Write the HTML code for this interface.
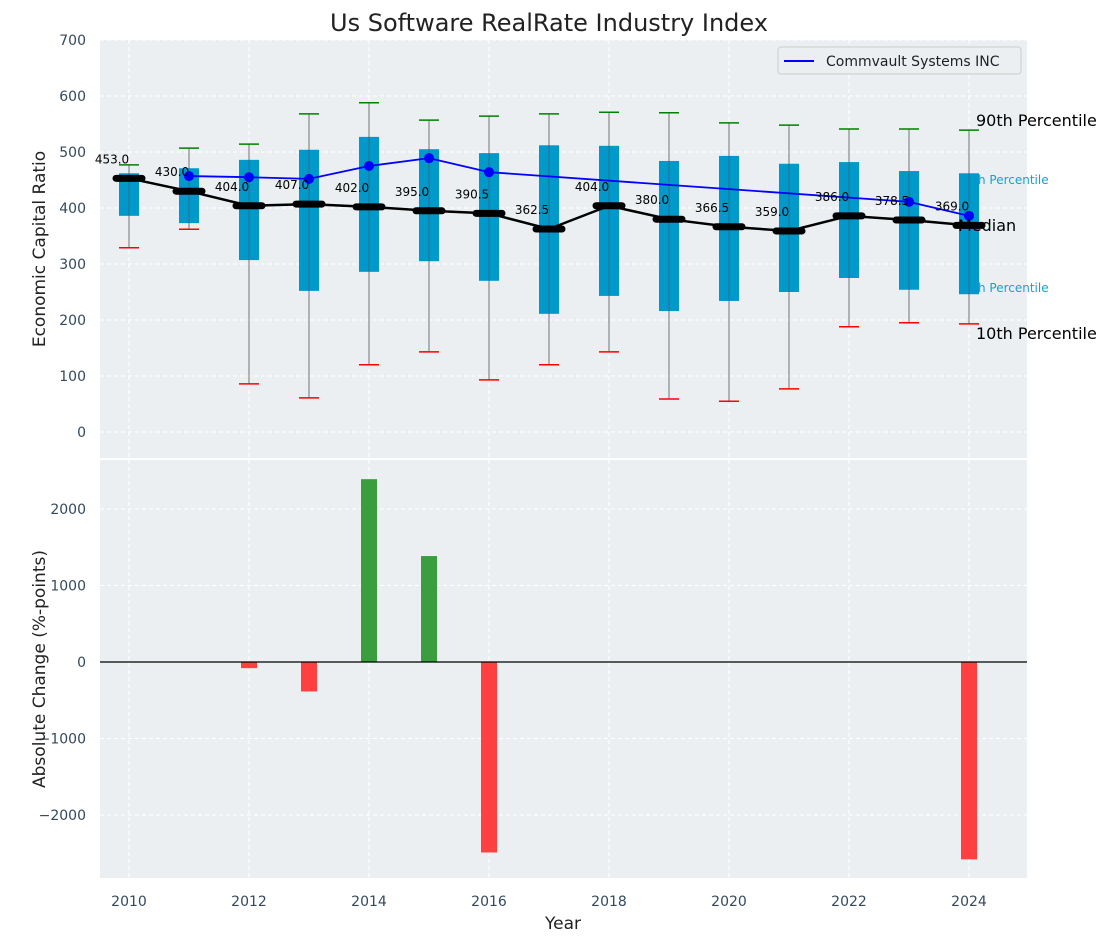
<!DOCTYPE html>
<html><head><meta charset="utf-8"><style>
body{margin:0;background:#fff;}
svg{display:block;font-family:"DejaVu Sans","Liberation Sans",sans-serif;}
</style></head><body>
<svg id="chart" width="1111" height="942" viewBox="0 0 1111 942" xmlns="http://www.w3.org/2000/svg">
<text x="549" y="31" font-size="24" text-anchor="middle" fill="#222">Us Software RealRate Industry Index</text>
<rect x="100" y="40" width="927" height="418" fill="#ebeff1"/>
<rect x="100" y="460" width="927" height="418" fill="#ebeff1"/>
<g id="grid"></g>
<text x="976" y="126" font-size="16" fill="#000">90th Percentile</text>
<text x="958" y="184" font-size="12" fill="#1aa0d0">75th Percentile</text>
<text x="958" y="292" font-size="12" fill="#1aa0d0">25th Percentile</text>
<text x="976" y="339" font-size="16" fill="#000">10th Percentile</text>
<g id="marks"></g><g id="axes"></g>
<text x="958" y="231" font-size="16" fill="#000">Median</text>
<text transform="translate(45,249) rotate(-90)" font-size="17" text-anchor="middle" fill="#222">Economic Capital Ratio</text>
<text transform="translate(45,669) rotate(-90)" font-size="17" text-anchor="middle" fill="#222">Absolute Change (%-points)</text>
<text x="563" y="929" font-size="17" text-anchor="middle" fill="#222">Year</text>
<g>
<rect x="778" y="47" width="243" height="27" rx="3" fill="#ebeff1" stroke="#ccc"/>
<line x1="784" y1="61" x2="814" y2="61" stroke="#0000ff" stroke-width="2"/>
<text x="826" y="66" font-size="14" fill="#222">Commvault Systems INC</text>
</g>
</svg>
<script>
const years=[2010,2011,2012,2013,2014,2015,2016,2017,2018,2019,2020,2021,2022,2023,2024];
const p90=[477,507,514,568,588,557,564,568,571,570,552,548,541,541,539];
const p75=[462,471,486,504,527,505,498,512,511,484,493,479,482,466,462];
const median=[453,430,404,407,402,395,390.5,362.5,404,380,366.5,359,386,378.5,369];
const p25=[386,373,307,252,286,305,270,211,243,216,234,250,275,254,246];
const p10=[329,362,86,61,120,143,93,120,143,59,55,77,188,195,193];
const compYears=[2011,2012,2013,2014,2015,2016,2023,2024];
const compVals=[457,455,452,475,489,464,411,386];
const changeYears=[2012,2013,2014,2015,2016,2024];
const changeVals=[-80,-385,2390,1385,-2490,-2580];
const yTicksTop=[0,100,200,300,400,500,600,700];
const yTicksBot=[-2000,-1000,0,1000,2000];
const xTicks=[2010,2012,2014,2016,2018,2020,2022,2024];

const NS="http://www.w3.org/2000/svg";
const X=y=>129+(y-2010)*60;
const YT=v=>432-v*0.56;
const YB=v=>662-v*0.0765;
function mk(p,t,a){const e=document.createElementNS(NS,t);for(const k in a)e.setAttribute(k,a[k]);p.appendChild(e);return e;}
const G=document.getElementById('grid'),M=document.getElementById('marks'),A=document.getElementById('axes');
const tc="#34495e";
xTicks.forEach(t=>{
 [[40,458],[460,878]].forEach(r=>{const l=mk(G,'line',{x1:X(t),x2:X(t),y1:r[0],y2:r[1],stroke:'#fff','stroke-dasharray':'4,3'});
 });
 const tx=mk(A,'text',{x:X(t),y:906,'font-size':14,'text-anchor':'middle',fill:tc});tx.textContent=t;
 
});
yTicksTop.forEach(t=>{
 const l=mk(G,'line',{x1:100,x2:1027,y1:YT(t),y2:YT(t),stroke:'#fff','stroke-dasharray':'4,3'});
 
 const tx=mk(A,'text',{x:86,y:YT(t)+5,'font-size':14,'text-anchor':'end',fill:tc});tx.textContent=t;
 
});
yTicksBot.forEach(t=>{
 const l=mk(G,'line',{x1:100,x2:1027,y1:YB(t),y2:YB(t),stroke:'#fff','stroke-dasharray':'4,3'});
 
 const tx=mk(A,'text',{x:86,y:YB(t)+5,'font-size':14,'text-anchor':'end',fill:tc});tx.textContent=(t<0?'\u2212'+(-t):t);
 
});
years.forEach((y,i)=>{
 const x=X(y);
 const w=mk(M,'line',{x1:x,x2:x,y1:YT(p10[i]),y2:YT(p90[i]),stroke:'#888','stroke-width':1.2});
 
 const b=mk(M,'rect',{x:x-10,y:YT(p75[i]),width:20,height:YT(p25[i])-YT(p75[i]),fill:'#0099cc'});
 
 const w2=mk(M,'line',{x1:x,x2:x,y1:YT(p75[i]),y2:YT(p25[i]),stroke:'#555','stroke-width':1,opacity:0.6});
 
 const c1=mk(M,'line',{x1:x-10,x2:x+10,y1:YT(p90[i]),y2:YT(p90[i]),stroke:'green','stroke-width':1.5});
 
 const c2=mk(M,'line',{x1:x-10,x2:x+10,y1:YT(p10[i]),y2:YT(p10[i]),stroke:'red','stroke-width':1.5});
 
});
const mp=mk(M,'polyline',{points:years.map((y,i)=>X(y)+','+YT(median[i])).join(' '),fill:'none',stroke:'#000','stroke-width':2.5});

years.forEach((y,i)=>{
 const m=mk(M,'line',{x1:X(y)-13,x2:X(y)+13,y1:YT(median[i]),y2:YT(median[i]),stroke:'#000','stroke-width':7,'stroke-linecap':'round'});
 
});
const cp=mk(M,'polyline',{points:compYears.map((y,i)=>X(y)+','+YT(compVals[i])).join(' '),fill:'none',stroke:'#0000ff','stroke-width':1.8});

compYears.forEach((y,i)=>{
 const c=mk(M,'circle',{cx:X(y),cy:YT(compVals[i]),r:5,fill:'#0000ff'});
 
});
years.forEach((y,i)=>{
 const t=mk(M,'text',{x:X(y)-17,y:YT(median[i])-15,'font-size':12,'text-anchor':'middle',fill:'#000'});
 t.textContent=median[i].toFixed(1);
 
});
changeYears.forEach((y,i)=>{
 const v=changeVals[i];
 const r=mk(M,'rect',{x:X(y)-8,y:Math.min(YB(v),YB(0)),width:16,height:Math.abs(YB(v)-YB(0)),fill:v>=0?'#3a9e3e':'#ff4040'});
 
});
const z=mk(M,'line',{x1:100,x2:1027,y1:YB(0),y2:YB(0),stroke:'#000','stroke-width':1.2});

</script>
</body></html>
